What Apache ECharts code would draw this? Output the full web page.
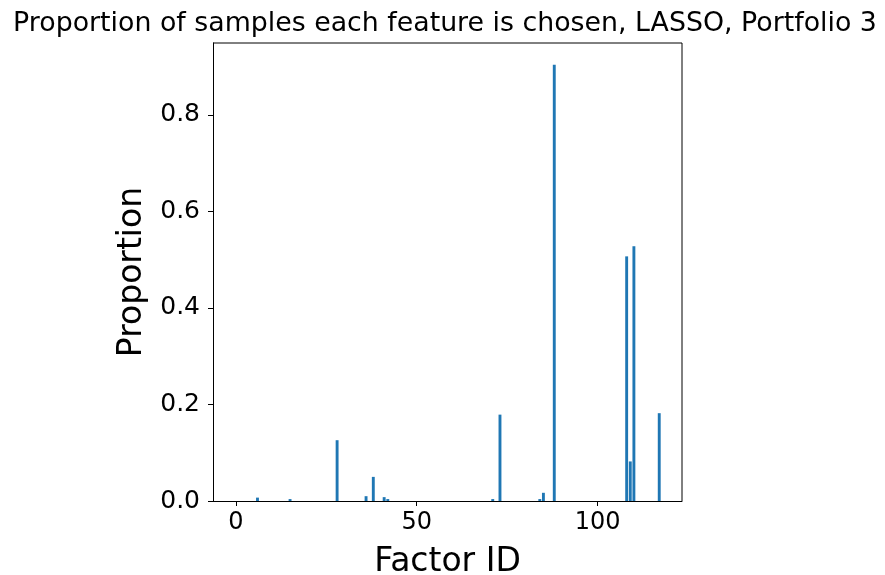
<!DOCTYPE html>
<html>
<head>
<meta charset="utf-8">
<script src="https://cdn.jsdelivr.net/npm/echarts@6/dist/echarts.min.js"></script>
<style>
  html, body { margin: 0; padding: 0; background: #fff; }
  #chart { width: 885px; height: 575px; }
</style>
</head>
<body>
<div id="chart"></div>
<script>
// Factor IDs that were selected at least once, and how often (share of samples)
const factorIds = [6, 15, 28, 36, 38, 41, 42, 71, 73, 84, 85, 88, 108, 109, 110, 117];
const proportions = [0.007, 0.004, 0.126, 0.010, 0.050, 0.008, 0.004, 0.004, 0.179, 0.004, 0.017, 0.904, 0.507, 0.082, 0.528, 0.182];

// Axis tick labels
const xTicks = [0, 50, 100];
const yTicks = [0, 0.2, 0.4, 0.6, 0.8];

const titleText = 'Proportion of samples each feature is chosen, LASSO, Portfolio 3';
const xName = 'Factor ID';
const yName = 'Proportion';

const nFactors = 118;           // factors 0..117
const barW = 0.8;               // bar width in data units
const xPad = 0.05 * (nFactors - 1 + barW);
const xMin = -barW / 2 - xPad;
const xMax = nFactors - 1 + barW / 2 + xPad;
const yMax = Math.max(...proportions) * 1.05;

const font = 'DejaVu Sans';
const chart = echarts.init(document.getElementById('chart'), null, { renderer: 'canvas' });

const grid = { left: 213, right: 203, top: 43, bottom: 74, outerBoundsMode: 'none', containLabel: false };
const plotW = 885 - grid.left - grid.right;
const barPx = plotW / (xMax - xMin) * barW;

chart.setOption({
  animation: false,
  backgroundColor: '#ffffff',
  title: {
    text: titleText,
    left: 440,
    textAlign: 'center',
    top: 6,
    textStyle: { fontFamily: font, fontSize: 26.8, fontWeight: 'normal', color: '#000' }
  },
  grid: grid,
  xAxis: {
    type: 'value',
    min: xMin,
    max: xMax,
    name: xName,
    nameLocation: 'middle',
    nameGap: 45,
    nameTextStyle: { fontFamily: font, fontSize: 33, color: '#000' },
    axisLine: { show: true, onZero: false, lineStyle: { color: '#000', width: 1 } },
    axisTick: { show: true, inside: false, length: 5, customValues: xTicks, lineStyle: { color: '#000' } },
    axisLabel: { customValues: xTicks, margin: 10, fontFamily: font, fontSize: 24, color: '#000' },
    splitLine: { show: false }
  },
  yAxis: {
    type: 'value',
    min: 0,
    max: yMax,
    name: yName,
    nameLocation: 'middle',
    nameGap: 63,
    nameRotate: 90,
    nameTextStyle: { fontFamily: font, fontSize: 33, color: '#000' },
    axisLine: { show: true, onZero: false, lineStyle: { color: '#000', width: 1 } },
    axisTick: { show: true, inside: false, length: 5, customValues: yTicks, lineStyle: { color: '#000' } },
    axisLabel: {
      customValues: yTicks, margin: 13, fontFamily: font, fontSize: 25, color: '#000',
      formatter: v => v.toFixed(1)
    },
    splitLine: { show: false }
  },
  // top and right frame lines
  graphic: [{
    type: 'polyline',
    shape: { points: [[grid.left, grid.top], [885 - grid.right, grid.top], [885 - grid.right, 575 - grid.bottom]] },
    style: { stroke: '#000', lineWidth: 1, fill: null }
  }],
  series: [{
    type: 'bar',
    data: factorIds.map((id, i) => [id, proportions[i]]),
    barWidth: barPx,
    itemStyle: { color: '#1f77b4' },
    silent: true
  }]
});
</script>
</body>
</html>
